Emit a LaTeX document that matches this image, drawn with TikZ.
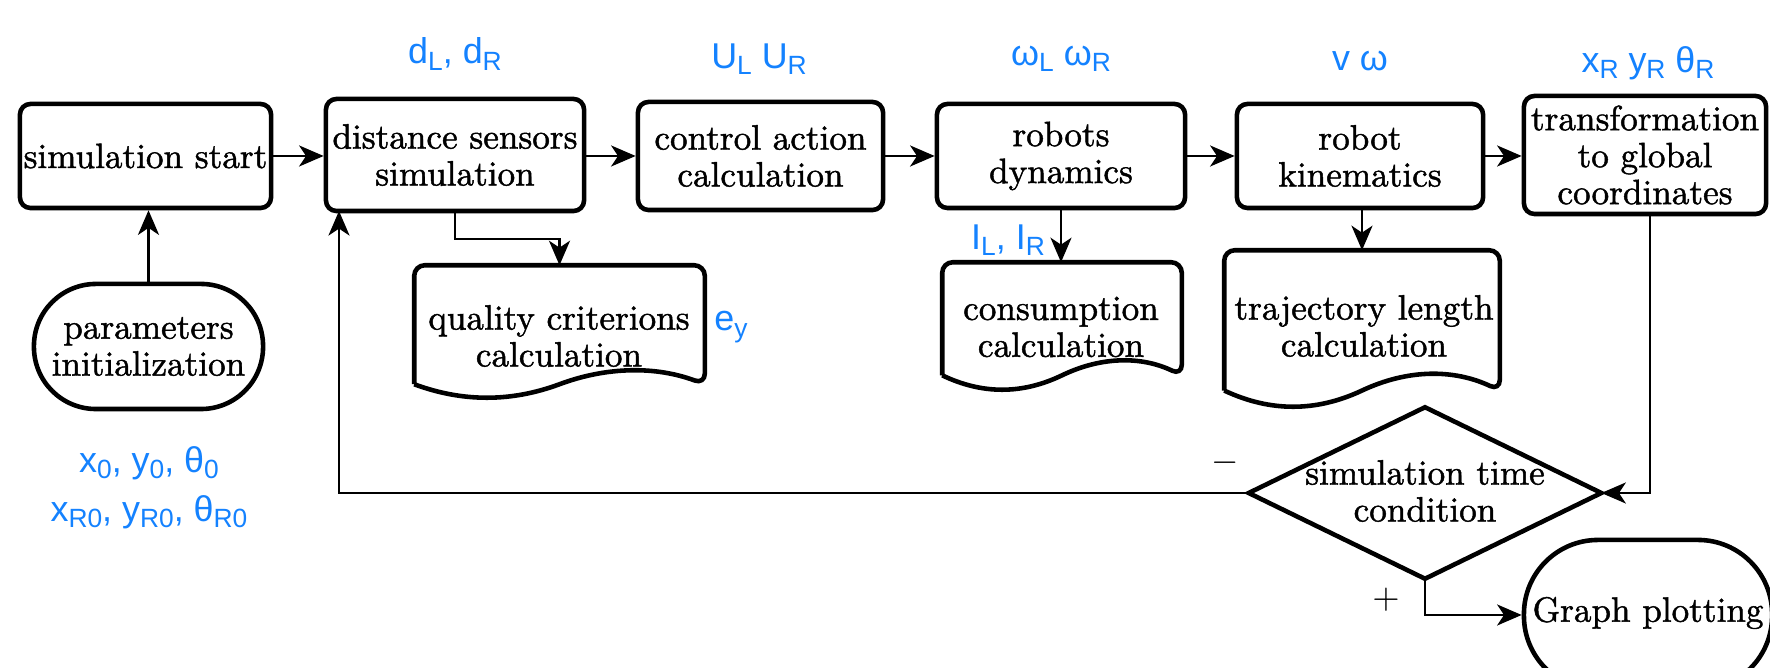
\documentclass[tikz,border=0pt]{standalone}
\usepackage{fontspec}
\newfontfamily\lblfont{Liberation Sans}
\newfontfamily\heavyfont{Latin Modern Roman}[FakeBold=1.3]
\usetikzlibrary{arrows.meta,calc}
\definecolor{lblblue}{RGB}{20,130,255}
\newcommand{\sbx}[1]{\raisebox{-0.35ex}{\fontsize{7.5}{7.5}\selectfont #1}}
\tikzset{
  boxline/.style={draw, line width=1.3pt, rounded corners=3pt},
  box/.style={boxline, align=center, font=\heavyfont\fontsize{10}{10.5}\selectfont, inner sep=1pt},
  plain/.style={align=center, font=\heavyfont\fontsize{10}{10.5}\selectfont, inner sep=0pt},
  conn/.style={line width=0.6pt, -{Stealth[length=7pt,width=6pt,inset=2pt]}},
  lbl/.style={text=lblblue, font=\lblfont\fontsize{10.2}{12}\selectfont, inner sep=0pt},
}
\newcommand{\docpath}[2]{%
  \draw[line width=1.3pt, rounded corners=3pt] ($(#1.south west)+(0,{-0.45*#2})$) -- (#1.north west) -- (#1.north east) -- ($(#1.south east)+(0,{-0.45*#2})$)
  [sharp corners] .. controls ($(#1.south west)!0.8333!(#1.south east)+(0,{-1.05*#2})$) and ($(#1.south west)!0.6667!(#1.south east)+(0,{-1.05*#2})$) .. ($(#1.south)+(0,{-0.45*#2})$)
  .. controls ($(#1.south west)!0.3333!(#1.south east)+(0,{0.15*#2})$) and ($(#1.south west)!0.1667!(#1.south east)+(0,{0.15*#2})$) .. ($(#1.south west)+(0,{-0.45*#2})$);}
\begin{document}
\begin{tikzpicture}[x=0.01cm,y=-0.01cm]
\clip (0,0) rectangle (1770,668);
\fill[white] (0,0) rectangle (1770,668);

% top row
\node[box, minimum width=2.51cm, minimum height=1.04cm] (start) at (145.5,156) {simulation start};
\node[box, minimum width=2.58cm, minimum height=1.12cm] (sensors) at (455,155) {distance sensors\\simulation};
\node[box, minimum width=2.45cm, minimum height=1.08cm] (control) at (760.5,156) {control action\\calculation};
\node[box, minimum width=2.48cm, minimum height=1.04cm] (dyn) at (1061,156) {robots\\dynamics};
\node[box, minimum width=2.46cm, minimum height=1.04cm] (kin) at (1360,156) {robot\\kinematics};
\node[box, minimum width=2.42cm, minimum height=1.18cm] (trans) at (1645,155) {transformation\\to global\\coordinates};

% params and graph
\node[boxline, rounded corners=0.62cm, align=center, font=\heavyfont\fontsize{10}{10.5}\selectfont, minimum width=2.29cm, minimum height=1.25cm] (params) at (148.5,346.5) {parameters\\initialization};
\node[boxline, rounded corners=0.74cm, minimum width=2.48cm, minimum height=1.5cm] (graph) at (1648,615) {};
\node[plain] (graphtxt) at (1648,613) {Graph plotting};

% documents
\node[minimum width=2.89cm, minimum height=1.31cm, inner sep=0pt] (quality) at (559.5,331.5) {};
\node[plain] (qualitytxt) at (559,336) {quality criterions\\calculation};
\docpath{quality}{30}
\node[minimum width=2.38cm, minimum height=1.26cm, inner sep=0pt] (cons) at (1062,326) {};
\node[plain] (constxt) at (1061,327) {consumption\\calculation};
\docpath{cons}{32}
\node[minimum width=2.74cm, minimum height=1.55cm, inner sep=0pt] (traj) at (1362,328.5) {};
\node[plain] (trajtxt) at (1364,326) {trajectory length\\calculation};
\docpath{traj}{36}

% decision
\node[minimum width=3.51cm, minimum height=1.70cm, inner sep=0pt] (cond) at (1425,493) {};
\draw[line width=1.3pt] (cond.north) -- (cond.east) -- (cond.south) -- (cond.west) -- cycle;
\node[plain] (condtxt) at (1425,491) {simulation time\\condition};

% connectors
\draw[conn] (start.east) -- (start.east -| sensors.west);
\draw[conn] (sensors.east |- control.west) -- (control.west);
\draw[conn] (control.east) -- (control.east -| dyn.west);
\draw[conn] (dyn.east) -- (dyn.east -| kin.west);
\draw[conn] (kin.east) -- (kin.east -| trans.west);
\draw[conn] (params.north) -- (params.north |- start.south);
\draw[conn] (sensors.south) -- ++(0,26) -| (quality.north);
\draw[conn] (dyn.south) -- (dyn.south |- cons.north);
\draw[conn] (kin.south -| traj.north) -- (traj.north);
\draw[conn] ([xshift=0.05cm]trans.south) |- (cond.east);
\coordinate (fb) at (339,211);
\draw[conn] (cond.west) -| (fb);
\draw[conn] (cond.south) |- (graph.west);

% signs
\node[plain] (minus) at (1225,463) {$-$};
\node[plain] (plus) at (1386,600) {$+$};

% blue labels
\node[lbl] (ld) at (455,54) {d\sbx{L}, d\sbx{R}};
\node[lbl] (lu) at (759,59) {U\sbx{L} U\sbx{R}};
\node[lbl] (lw) at (1061,59) {ω\sbx{L} ω\sbx{R}};
\node[lbl] (lv) at (1360,61) {v ω};
\node[lbl] (lx) at (1648,63) {x\sbx{R} y\sbx{R} θ\sbx{R}};
\node[lbl] (li) at (1008,240) {I\sbx{L}, I\sbx{R}};
\node[lbl] (le) at (731,327) {e\sbx{y}};
\node[lbl] (lx0) at (149,463) {x\sbx{0}, y\sbx{0}, θ\sbx{0}};
\node[lbl] (lxr0) at (149,512) {x\sbx{R0}, y\sbx{R0}, θ\sbx{R0}};
\end{tikzpicture}
\end{document}
